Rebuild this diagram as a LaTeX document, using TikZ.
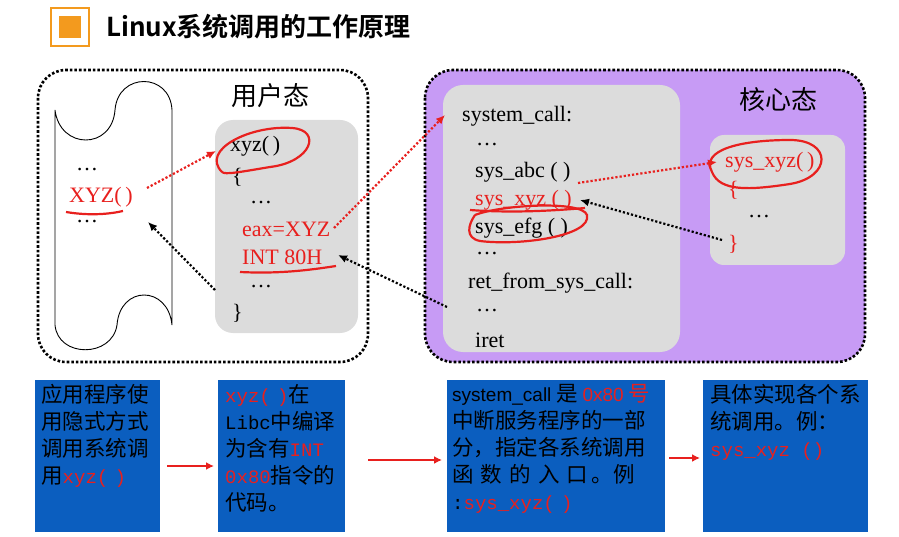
\documentclass[tikz,border=0pt]{standalone}
\usepackage{fontspec}
\setmainfont{Liberation Serif}
\newfontfamily\cjk{Noto Sans CJK SC}
\newfontfamily\cjkb{Noto Sans CJK SC Bold}
\newfontfamily\mono{Liberation Mono}
\newfontfamily\lsans{Liberation Sans}
\usetikzlibrary{arrows.meta}
\definecolor{rd}{HTML}{E8201E}
\definecolor{bl}{HTML}{0B5EBF}
\definecolor{pu}{HTML}{C79BF5}
\definecolor{gr}{HTML}{DCDCDC}
\definecolor{og}{HTML}{F39A1E}
\tikzset{
 code/.style={anchor=west,inner sep=0pt,font=\fontsize{22}{22}\selectfont},
 rcode/.style={code,text=rd},
 dotbox/.style={draw=black,line width=2.6pt,dotted,rounded corners=28pt},
 ptr/.style={dotted,line width=2.2pt,-{Latex[length=9pt,width=8pt]}},
 hand/.style={draw=rd,line width=2.2pt},
 btext/.style={anchor=north west,inner sep=0pt,align=left,font=\cjk\fontsize{21.5}{27}\selectfont},
 bmono/.style={},
 flow/.style={draw=rd,line width=2.4pt,-{Latex[length=8pt,width=8pt]}}
}
\newcommand{\cm}[1]{{\mono\fontsize{19}{27}\selectfont #1}}
\begin{document}
\begin{tikzpicture}[x=1pt,y=-1pt]
\useasboundingbox (0,0) rectangle (899,537);
% title
\node[draw=og,line width=2.5pt,minimum size=38pt,inner sep=0pt] (tq) at (70,27) {};
\node[fill=og,minimum size=22pt,inner sep=0pt] (tqi) at (70,27) {};
\node[anchor=west,inner sep=0pt,font=\cjkb\fontsize{26}{26}\selectfont] (title) at (106,27) {Linux系统调用的工作原理};
% left container
\draw[dotbox] (38,70) rectangle (368,362);
\draw[line width=0.9pt] (55,325) -- (55,110) .. controls (60,150) and (112,150) .. (115,110) .. controls (118,72) and (170,72) .. (172,110) -- (172,325)
 .. controls (168,285) and (120,285) .. (117,325) .. controls (112,358) and (58,358) .. (55,325);
\node[code] (ld1) at (76,170) {\dots};
\node[rcode] (XYZ) at (69,197) {XYZ(\,)};
\draw[hand] (66,212) .. controls (90,216) and (110,214) .. (123,211);
\node[code] (ld2) at (76,222) {\dots};
\node[inner sep=0pt,font=\cjk\fontsize{26}{26}\selectfont] (user) at (270,96) {用户态};
\fill[gr,rounded corners=18pt] (215,120) rectangle (358,333);
\node[code] (xyz) at (230,146) {xyz(\,)};
\node[code] (lb) at (232,177) {\{};
\node[code] (ud1) at (250,203) {\dots};
\node[rcode] (eax) at (242,229) {eax=XYZ};
\node[rcode] (int) at (242,257) {INT 80H};
\node[code] (ud2) at (250,287) {\dots};
\node[code] (rb) at (232,313) {\}};
\draw[hand] (222,172) .. controls (200,150) and (250,125) .. (292,128) .. controls (322,130) and (312,162) .. (270,167) .. controls (240,172) and (225,175) .. (222,172);
\draw[hand] (240,272) .. controls (280,274) and (310,270) .. (336,266);
% kernel container
\draw[dotbox,fill=pu] (425,70) rectangle (865,362);
\fill[gr,rounded corners=20pt] (443,85) rectangle (680,352);
\node[inner sep=0pt,font=\cjk\fontsize{26}{26}\selectfont] (kern) at (778,100) {核心态};
\fill[gr,rounded corners=14pt] (710,135) rectangle (845,265);
\node[code] (sc) at (462,116) {system\_call:};
\node[code] (kd1) at (476,145) {\dots};
\node[code] (abc) at (475,172) {sys\_abc ( )};
\node[rcode] (sxyz) at (475,200) {sys\_xyz ( )};
\node[code] (efg) at (475,228) {sys\_efg ( )};
\node[code] (kd2) at (476,254) {\dots};
\node[code] (ret) at (468,283) {ret\_from\_sys\_call:};
\node[code] (kd3) at (476,311) {\dots};
\node[code] (iret) at (475,340) {iret};
\draw[hand] (470,210) .. controls (510,213) and (550,211) .. (585,208);
\draw[hand] (475,215) .. controls (500,205) and (582,200) .. (587,215) .. controls (592,236) and (520,246) .. (480,241) .. controls (465,238) and (468,225) .. (475,215);
\node[rcode] (impl) at (725,162) {sys\_xyz(\,)};
\node[rcode] (ilb) at (728,190) {\{};
\node[code] (id) at (748,217) {\dots};
\node[rcode] (irb) at (728,244) {\}};
\draw[hand] (712,172) .. controls (700,150) and (740,140) .. (790,140) .. controls (832,140) and (832,177) .. (790,184) .. controls (750,190) and (720,192) .. (712,172);
% pointers
\coordinate (p1) at (147,188); \coordinate (p2) at (216,151);
\draw[ptr,draw=rd] (p1) -- (p2);
\coordinate (p3) at (215,290); \coordinate (p4) at (148,222);
\draw[ptr] (p3) -- (p4);
\coordinate (p5) at (334,228); \coordinate (p6) at (445,115);
\draw[ptr,draw=rd] (p5) -- (p6);
\coordinate (p7) at (447,307); \coordinate (p8) at (338,255);
\draw[ptr] (p7) -- (p8);
\coordinate (p9) at (578,183); \coordinate (p10) at (717,162);
\draw[ptr,draw=rd] (p9) -- (p10);
\coordinate (p11) at (722,240); \coordinate (p12) at (580,200);
\draw[ptr] (p11) -- (p12);
% bottom boxes
\fill[bl] (35,380) rectangle (160,532);
\fill[bl] (218,380) rectangle (345,532);
\fill[bl] (447,380) rectangle (665,532);
\fill[bl] (703,380) rectangle (868,532);
\node[btext] (b1) at (41,384) {应用程序使\\用隐式方式\\调用系统调\\用\cm{\color{rd}xyz(\,\,)}};
\node[btext] (b2) at (225,384) {\cm{\color{rd}xyz(\,\,)}在\\\cm{Libc}中编译\\为含有\cm{\color{rd}INT}\\\cm{\color{rd}0x80}指令的\\代码。};
\node[btext] (b3) at (452,384) {{\lsans\fontsize{19}{27}\selectfont system\_call} 是 {\lsans\fontsize{19}{27}\selectfont\color{rd}0x80} {\color{rd}号}\\中断服务程序的一部\\分，指定各系统调用\\函\,\,数\,\,的\,\,入\,\,口\,。例\\\cm{:\color{rd}sys\_xyz(\,\,)}};
\node[btext] (b4) at (710,384) {具体实现各个系\\统调用。例：\\\cm{\color{rd}sys\_xyz ()}};
\coordinate (a1) at (167,466); \coordinate (a2) at (214,466);
\draw[flow] (a1) -- (a2);
\coordinate (a3) at (368,460); \coordinate (a4) at (442,460);
\draw[flow] (a3) -- (a4);
\coordinate (a5) at (669,458); \coordinate (a6) at (700,458);
\draw[flow] (a5) -- (a6);
\end{tikzpicture}
\end{document}
